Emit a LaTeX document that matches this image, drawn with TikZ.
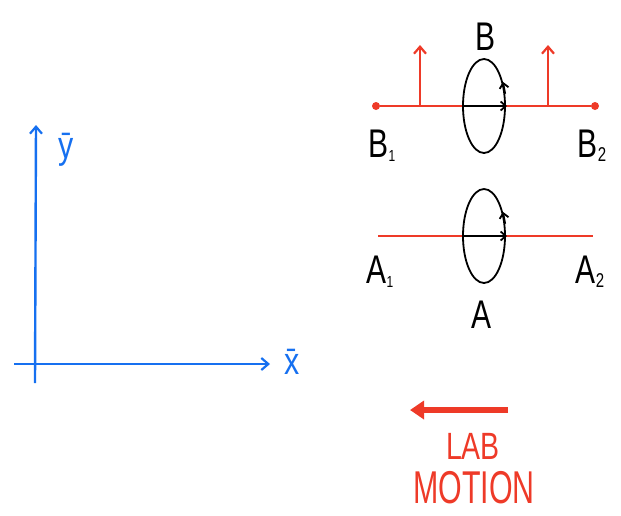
\documentclass[tikz,border=0pt]{standalone}
\usepackage{fontspec}
\setmainfont{Liberation Sans}
\usetikzlibrary{arrows.meta,shapes.geometric}
\definecolor{penred}{RGB}{238,58,40}
\definecolor{penblue}{RGB}{22,112,240}
\tikzset{
  x=1pt, y=-1pt,
  redline/.style={penred, line width=2.4pt},
  blueline/.style={penblue, line width=2.4pt},
  blacklabel/.style={font=\fontsize{40}{40}\selectfont, inner sep=0pt, xscale=0.75},
  bluelabel/.style={penblue, font=\fontsize{38}{38}\selectfont, inner sep=0pt, xscale=0.8},
  ring/.style={draw=black, line width=1.8pt, ellipse, minimum width=42pt, minimum height=94pt, inner sep=0pt},
  open/.style={-{Straight Barb[length=7pt,width=12pt,line width=2.2pt]}},
  dotend/.style={circle, fill=penred, minimum size=8pt, inner sep=0pt},
  smallbarb/.style={-{Straight Barb[length=5pt,width=9pt,line width=1.8pt]}},
  redtext/.style={penred, inner sep=0pt, text depth=0pt, anchor=base},
}
\begin{document}
\begin{tikzpicture}
\useasboundingbox (0,0) rectangle (621,515);
% axes
\coordinate (ytop) at (36,125);
\coordinate (ybot) at (35,383);
\coordinate (xleft) at (14,364);
\coordinate (xright) at (270,364);
\draw[blueline, open] (ybot) -- (ytop);
\draw[blueline, open] (xleft) -- (xright);
\node[bluelabel] (ylab) at (66,150) {\={y}};
\node[bluelabel] (xlab) at (292,362) {\={x}};
% B row
\node[dotend] (B1p) at (376,106) {};
\node[dotend] (B2p) at (595,106) {};
\draw[redline] (B1p) -- (B2p);
\coordinate (bu1) at (420,106); \coordinate (bu1t) at (420,45);
\coordinate (bu2) at (548,106); \coordinate (bu2t) at (548,45);
\draw[redline, open] (bu1) -- (bu1t);
\draw[redline, open] (bu2) -- (bu2t);
\node[ring] (ringB) at (484,106) {};
\coordinate (bs) at (464,106); \coordinate (be) at (507,106);
\draw[black, line width=1.8pt, smallbarb] (bs) -- (be);
\draw[black, line width=1.8pt, smallbarb] (ringB.30) -- (ringB.52);
\node[blacklabel] (B) at (485,37) {B};
\node[blacklabel] (B1) at (382,146) {B\fontsize{16}{16}\selectfont\raisebox{-4pt}{1}};
\node[blacklabel] (B2) at (592,146) {B\fontsize{20}{20}\selectfont\raisebox{-4pt}{2}};
% A row
\coordinate (A1p) at (378,236);
\coordinate (A2p) at (593,236);
\draw[redline] (A1p) -- (A2p);
\node[ring] (ringA) at (484,236) {};
\coordinate (as) at (464,236); \coordinate (ae) at (507,236);
\draw[black, line width=1.8pt, smallbarb] (as) -- (ae);
\draw[black, line width=1.8pt, smallbarb] (ringA.30) -- (ringA.52);
\node[blacklabel] (A1) at (380,272) {A\fontsize{16}{16}\selectfont\raisebox{-4pt}{1}};
\node[blacklabel] (A2) at (590,272) {A\fontsize{20}{20}\selectfont\raisebox{-4pt}{2}};
\node[blacklabel] (A) at (481,315) {A};
% lab motion
\coordinate (ms) at (508,410);
\coordinate (me) at (410,410);
\draw[penred, line width=6pt, -{Triangle[length=14pt,width=18pt]}] (ms) -- (me);
\node[redtext, font=\fontsize{38}{38}\selectfont, text height=28pt, xscale=0.75] (lab) at (473,459) {LAB};
\node[redtext, font=\fontsize{46}{46}\selectfont, text height=34pt, xscale=0.66] (motion) at (474,503) {MOTION};
\end{tikzpicture}
\end{document}
